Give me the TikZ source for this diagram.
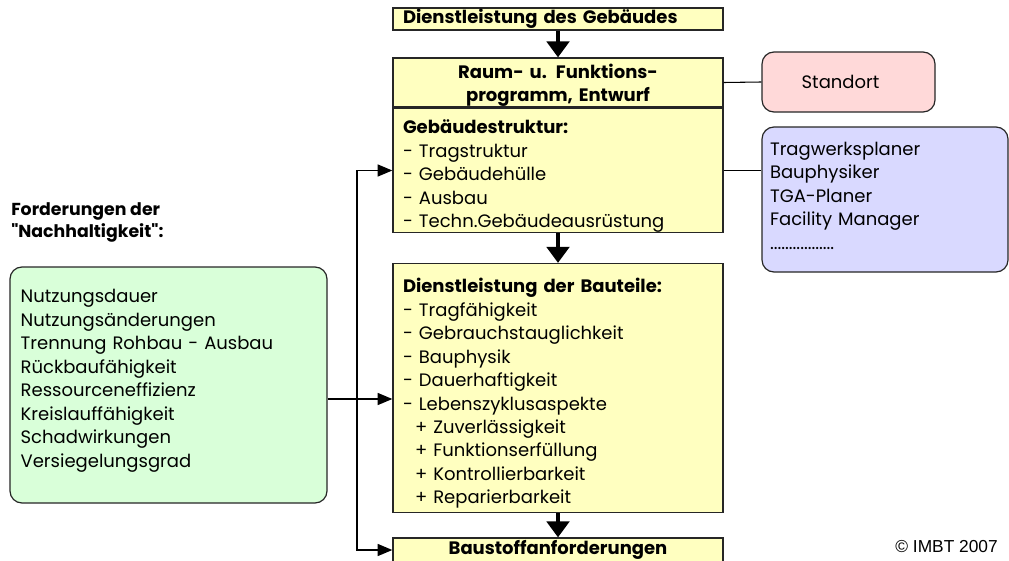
\documentclass[tikz,border=0pt]{standalone}
\usepackage{fontspec}
\setmainfont{Poppins}
\newfontfamily\arialfont{Liberation Sans}
\usepackage{tikz}
\usetikzlibrary{arrows.meta,positioning}
\definecolor{boxyellow}{RGB}{255,255,192}
\definecolor{boxpink}{RGB}{255,217,217}
\definecolor{boxlilac}{RGB}{217,217,255}
\definecolor{boxgreen}{RGB}{217,255,217}
\newcommand{\boxfont}{\fontsize{13.5}{17.6}\selectfont}
\newcommand{\topgap}{\rule{0pt}{19pt}}
\tikzstyle{block} = [rectangle, minimum width=247.5pt, draw=black!85, fill=boxyellow, line width=1pt, inner xsep=7.5pt, inner ysep=0pt, font=\boxfont, text width=232.5pt]
\tikzstyle{roundblock} = [rectangle, rounded corners=9pt, draw=black!85, line width=0.9pt, inner ysep=0pt, font=\boxfont]
\tikzstyle{bigarrow} = [line width=2.4pt, -{Triangle[width=17pt,length=12pt]}]
\tikzstyle{thinarrow} = [line width=1pt, -{Triangle[width=9pt,length=11pt]}]

\begin{document}
\begin{tikzpicture}[x=0.75pt,y=-0.75pt]
\useasboundingbox (0,0) rectangle (1009,560);

% main column
\node[block, minimum height=16.5pt, align=left, font=\boxfont\bfseries] (dienst) at (558,19) {Dienstleistung des Gebäudes};
\node[block, minimum height=36.75pt, align=center, font=\boxfont\bfseries] (raum) at (558,82.5) {\rule{0pt}{15pt}Raum- u. Funktions-\\programm, Entwurf};
\node[block, minimum height=92.25pt, align=left] (struktur) at (558,170.5) {\topgap\textbf{Gebäudestruktur:}\\- Tragstruktur\\- Gebäudehülle\\- Ausbau\\- Techn.Gebäudeausrüstung};
\node[block, minimum height=186.75pt, align=left] (bauteile) at (558,388) {\topgap\textbf{Dienstleistung der Bauteile:}\\- Tragfähigkeit\\- Gebrauchstauglichkeit\\- Bauphysik\\- Dauerhaftigkeit\\- Lebenszyklusaspekte\\\ \ + Zuverlässigkeit\\\ \ + Funktionserfüllung\\\ \ + Kontrollierbarkeit\\\ \ + Reparierbarkeit};
\node[block, minimum height=18pt, align=center, font=\boxfont\bfseries] (baustoff) at (558,550) {Baustoffanforderungen};

% side boxes
\node[roundblock, fill=boxpink, minimum width=129.75pt, minimum height=45pt] (standort) at (848.5,82) {Standort\kern12pt};
\node[roundblock, fill=boxlilac, minimum width=184.5pt, minimum height=108.75pt, text width=172.5pt, inner xsep=6pt, align=left] (planer) at (885,199.5) {Tragwerksplaner\\Bauphysiker\\TGA-Planer\\Facility Manager\\.................\\[-12pt]\mbox{}};
\node[roundblock, fill=boxgreen, minimum width=237.75pt, minimum height=177pt, text width=221.75pt, inner xsep=8pt, align=left] (nachhalt) at (168.5,385) {Nutzungsdauer\\Nutzungsänderungen\\Trennung Rohbau - Ausbau\\Rückbaufähigkeit\\Ressourceneffizienz\\Kreislauffähigkeit\\Schadwirkungen\\Versiegelungsgrad\\[-7.6pt]\mbox{}};
\node[anchor=west, align=left, inner sep=0pt, font=\fontsize{13}{16.5}\selectfont\bfseries] (forder) at (11,222) {Forderungen der\\\textquotedbl Nachhaltigkeit\textquotedbl:};
\node[anchor=east, inner sep=0pt, font=\arialfont\fontsize{13}{15}\selectfont] (copy) at (998,547) {© IMBT 2007};

% connectors
\draw[bigarrow] (dienst) -- (raum);
\draw[bigarrow] (struktur) -- (bauteile);
\draw[bigarrow] (bauteile) -- (baustoff);
\draw[line width=0.8pt] (raum.east) -- (standort.west);
\draw[line width=0.8pt] (struktur.east) -- (struktur.east -| planer.west);

\coordinate (bus) at (357,399);
\draw[thinarrow, {Triangle[width=9pt,length=11pt]}-{Triangle[width=9pt,length=11pt]}] (struktur.west) -| (bus) |- (baustoff.west);
\draw[thinarrow] (nachhalt.east |- bus) -- (bauteile.west |- bus);
\end{tikzpicture}
\end{document}
